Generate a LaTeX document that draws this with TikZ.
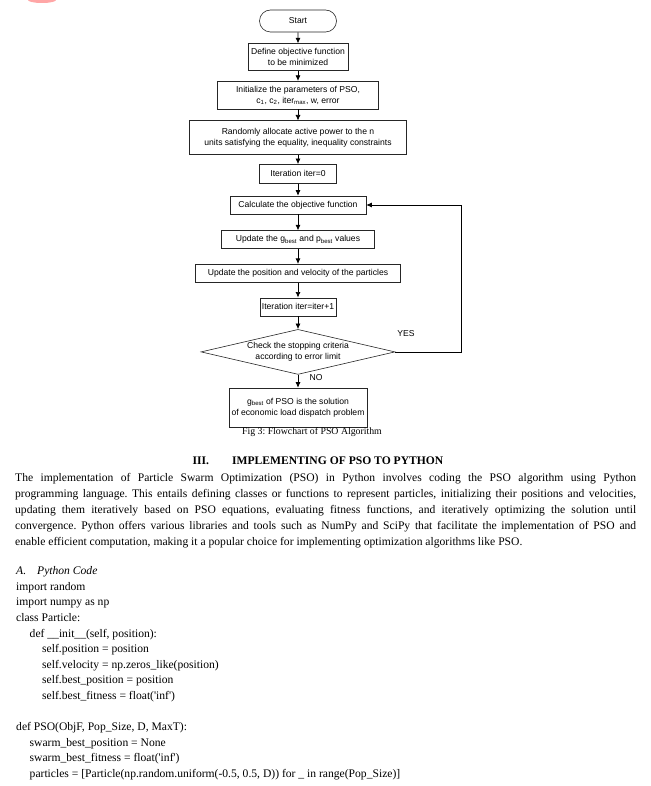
\documentclass[tikz,border=0pt]{standalone}
\usepackage{fontspec}
\setmainfont{Liberation Serif}
\newfontfamily\chartfont{Liberation Sans}
\usetikzlibrary{arrows.meta,positioning,calc,shapes.geometric,shapes.misc}
\frenchspacing

\begin{document}
\begin{tikzpicture}[
x=1pt,y=-1pt,
node distance=11pt,
box/.style={
rectangle,
draw=black!85,
line width=0.6pt,
align=center,
inner sep=0pt,
font=\chartfont\fontsize{8.6}{11}\selectfont
},
termbox/.style={box,rounded rectangle},
testbox/.style={box,diamond,aspect=4},
edge/.style={-{Latex[length=5.5pt,width=5pt]},line width=0.7pt,draw=black},
lbl/.style={font=\chartfont\fontsize{8.6}{9}\selectfont,inner sep=0pt},
bodytext/.style={inner sep=0pt,font=\fontsize{11.6}{16}\selectfont}
]
\useasboundingbox (0,0) rectangle (650,786);
\fill[red!35] (42,0) ellipse (14 and 3);

% flowchart
\node[termbox,minimum width=77pt,minimum height=22pt] (start) at (298,21) {Start};
\node[box,minimum width=100pt,minimum height=27pt] (obj) [below=11pt of start] {Define objective function\\to be minimized};
\node[box,minimum width=161pt,minimum height=28pt] (init) [below=10pt of obj] {Initialize the parameters of PSO,\\c\textsubscript{1}, c\textsubscript{2}, iter\textsubscript{max}, w, error};
\node[box,minimum width=217pt,minimum height=34pt] (alloc) [below=11pt of init] {Randomly allocate active power to the n\\units satisfying the equality, inequality constraints};
\node[box,minimum width=77pt,minimum height=19pt] (iterzero) [below=9pt of alloc] {Iteration iter=0};
\node[box,minimum width=136pt,minimum height=18pt] (calc) [below=12pt of iterzero] {Calculate the objective function};
\node[box,minimum width=153pt,minimum height=18pt] (best) [below=16pt of calc] {Update the g\textsubscript{best} and p\textsubscript{best} values};
\node[box,minimum width=205pt,minimum height=18pt] (move) [below=15pt of best] {Update the position and velocity of the particles};
\node[box,minimum width=76pt,minimum height=18pt] (iternext) [below=15pt of move] {Iteration iter=iter+1};
\node[testbox,minimum width=194pt,minimum height=45pt] (check) [below=13pt of iternext] {Check the stopping criteria\\according to error limit};
\node[box,minimum width=138pt,minimum height=39pt] (sol) [below=13pt of check] {g\textsubscript{best} of PSO is the solution\\of economic load dispatch problem};

\draw[edge] (start) -- (obj);
\draw[edge] (obj) -- (init);
\draw[edge] (init) -- (alloc);
\draw[edge] (alloc) -- (iterzero);
\draw[edge] (iterzero) -- (calc);
\draw[edge] (calc) -- (best);
\draw[edge] (best) -- (move);
\draw[edge] (move) -- (iternext);
\draw[edge] (iternext) -- (check);
\draw[edge] (check) -- (sol);
\draw[edge] (check.east) -- ++(66,0) |- (calc.east);
\node[lbl] (yes) at (406,334) {YES};
\node[lbl] (no) at (316,377.5) {NO};

% caption and text below
\node[inner sep=0pt,font=\fontsize{9.8}{11}\selectfont] (cap) at (312,432) {Fig 3: Flowchart of PSO Algorithm};
\node[inner sep=0pt,font=\bfseries\fontsize{11.6}{13}\selectfont] (head) at (318,461) {III.\hspace{23pt}IMPLEMENTING OF PSO TO PYTHON};
\node[bodytext,text width=621pt,align=justify,anchor=north west] (para) at (15,473.5) {\hyphenpenalty=10000
The implementation of Particle Swarm Optimization (PSO) in Python involves coding the PSO algorithm using Python\linebreak
programming language. This entails defining classes or functions to represent particles, initializing their positions and velocities,\linebreak
updating them iteratively based on PSO equations, evaluating fitness functions, and iteratively optimizing the solution until\linebreak
convergence. Python offers various libraries and tools such as NumPy and SciPy that facilitate the implementation of PSO and\linebreak
enable efficient computation, making it a popular choice for implementing optimization algorithms like PSO.};
\node[bodytext,font=\fontsize{11.6}{15.6}\selectfont,align=left,anchor=north west] (code) at (16,566.5) {%
\textit{A.\hspace{11pt}Python Code}\\
import random\\
import numpy as np\\
class Particle:\\
\hspace{13.5pt}def \_\_init\_\_(self, position):\\
\hspace{26pt}self.position = position\\
\hspace{26pt}self.velocity = np.zeros\_like(position)\\
\hspace{26pt}self.best\_position = position\\
\hspace{26pt}self.best\_fitness = float(\textquotesingle inf\textquotesingle)\\[15.6pt]
def PSO(ObjF, Pop\_Size, D, MaxT):\\
\hspace{13.5pt}swarm\_best\_position = None\\
\hspace{13.5pt}swarm\_best\_fitness = float(\textquotesingle inf\textquotesingle)\\
\hspace{13.5pt}particles = [Particle(np.random.uniform(-0.5, 0.5, D)) for \_ in range(Pop\_Size)]};
\end{tikzpicture}
\end{document}
